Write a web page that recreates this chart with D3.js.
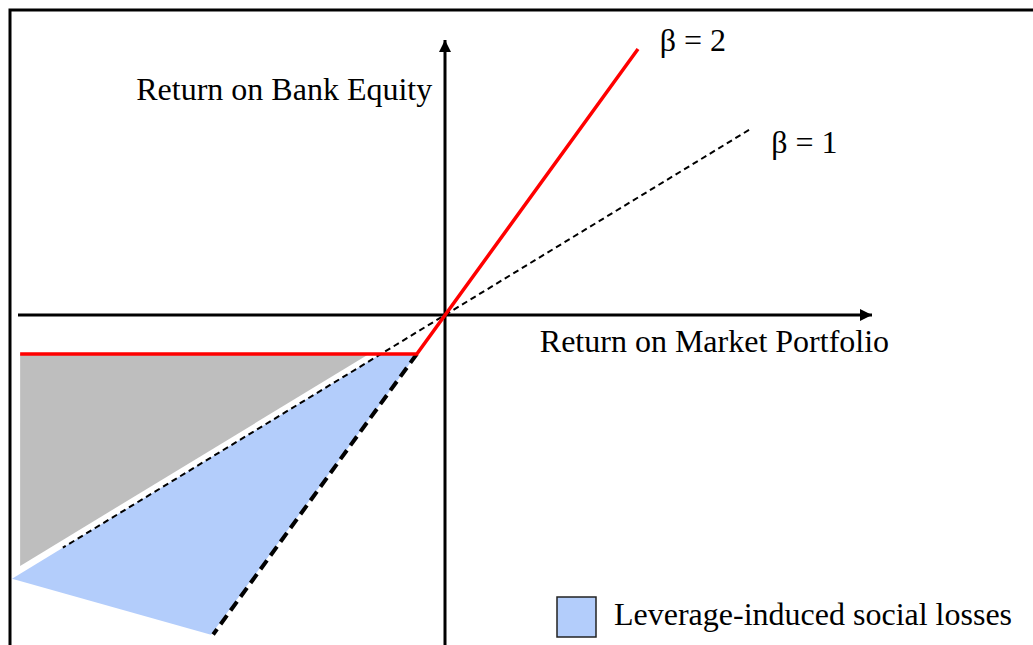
<!DOCTYPE html>
<html>
<head>
<meta charset="utf-8">
<script src="https://cdn.jsdelivr.net/npm/d3@7"></script>
<style>
  body { margin: 0; background: #fff; }
  text { font-family: "Liberation Serif", "Times New Roman", serif; font-size: 32px; fill: #000; }
</style>
</head>
<body>
<div id="chart"></div>
<script>
// Values (market return on x, bank equity return on y)
const betaOneLine = [[0.712, 0.712], [-0.895, -0.895]];
const betaTwoLine = [[-0.995, -0.15], [-0.066, -0.15], [0.452, 1.023]];
const betaTwoDown = [[-0.066, -0.15], [-0.543, -1.229]];
const grayArea = [[-0.995, -0.15], [-0.178, -0.15], [-0.995, -0.965]];
const blueArea = [[-0.066, -0.15], [-0.15, -0.15], [-1.014, -1.014], [-0.548, -1.23]];
const xAxisRange = [-1, 1];
const yAxisRange = [-1.32, 1.058];
const labels = [
  {text: 'Return on Bank Equity', x: -0.723, y: 0.827},
  {text: 'Return on Market Portfolio', x: 0.222, y: -0.142},
  {text: '\u03b2 = 2', x: 0.503, y: 1.015},
  {text: '\u03b2 = 1', x: 0.764, y: 0.623}
];
const legendLabel = 'Leverage-induced social losses';

const width = 1033, height = 645;

const svg = d3.select('#chart').append('svg')
    .attr('width', width)
    .attr('height', height);

const x = d3.scaleLinear().domain([-1, 1]).range([18, 872]);
const y = d3.scaleLinear().domain([-1, 1]).range([575, 55]);

const line = d3.line().x(d => x(d[0])).y(d => y(d[1]));

// arrow head
svg.append('defs').append('marker')
    .attr('id', 'arrow')
    .attr('viewBox', '0 0 12 12')
    .attr('refX', 12).attr('refY', 6)
    .attr('markerWidth', 12).attr('markerHeight', 12)
    .attr('markerUnits', 'userSpaceOnUse')
    .attr('orient', 'auto')
    .append('path')
    .attr('d', 'M0,0L12,6L0,12Z')
    .attr('fill', '#000');

// frame
svg.append('path')
    .attr('d', 'M10,' + height + 'L10,10L' + width + ',10')
    .attr('fill', 'none')
    .attr('stroke', '#000')
    .attr('stroke-width', 3);

// shaded areas
svg.append('path')
    .attr('d', line(grayArea) + 'Z')
    .attr('fill', '#bebebe');

svg.append('path')
    .attr('d', line(blueArea) + 'Z')
    .attr('fill', '#b3cdfb');

// axes
svg.append('line')
    .attr('x1', x(xAxisRange[0])).attr('y1', y(0))
    .attr('x2', x(xAxisRange[1])).attr('y2', y(0))
    .attr('stroke', '#000').attr('stroke-width', 3)
    .attr('marker-end', 'url(#arrow)');

svg.append('line')
    .attr('x1', x(0)).attr('y1', y(yAxisRange[0]))
    .attr('x2', x(0)).attr('y2', y(yAxisRange[1]))
    .attr('stroke', '#000').attr('stroke-width', 3)
    .attr('marker-end', 'url(#arrow)');

// beta = 1 line
svg.append('path')
    .attr('d', line(betaOneLine))
    .attr('fill', 'none')
    .attr('stroke', '#000')
    .attr('stroke-width', 2)
    .attr('stroke-dasharray', '6,4');

// beta = 2 continuation below the floor
svg.append('path')
    .attr('d', line(betaTwoDown))
    .attr('fill', 'none')
    .attr('stroke', '#000')
    .attr('stroke-width', 4)
    .attr('stroke-dasharray', '11,6');

// beta = 2 with limited liability floor
svg.append('path')
    .attr('d', line(betaTwoLine))
    .attr('fill', 'none')
    .attr('stroke', '#ff0000')
    .attr('stroke-width', 3.5)
    .attr('stroke-linejoin', 'miter');

svg.selectAll('text.label')
    .data(labels)
    .enter().append('text')
    .attr('class', 'label')
    .attr('x', d => x(d.x))
    .attr('y', d => y(d.y))
    .text(d => d.text);

// legend
const legend = svg.append('g').attr('transform', 'translate(557,597)');
legend.append('rect')
    .attr('width', 39).attr('height', 40)
    .attr('fill', '#b3cdfb')
    .attr('stroke', '#222')
    .attr('stroke-width', 1.5);
legend.append('text')
    .attr('x', 57).attr('y', 28)
    .text(legendLabel);
</script>
</body>
</html>
